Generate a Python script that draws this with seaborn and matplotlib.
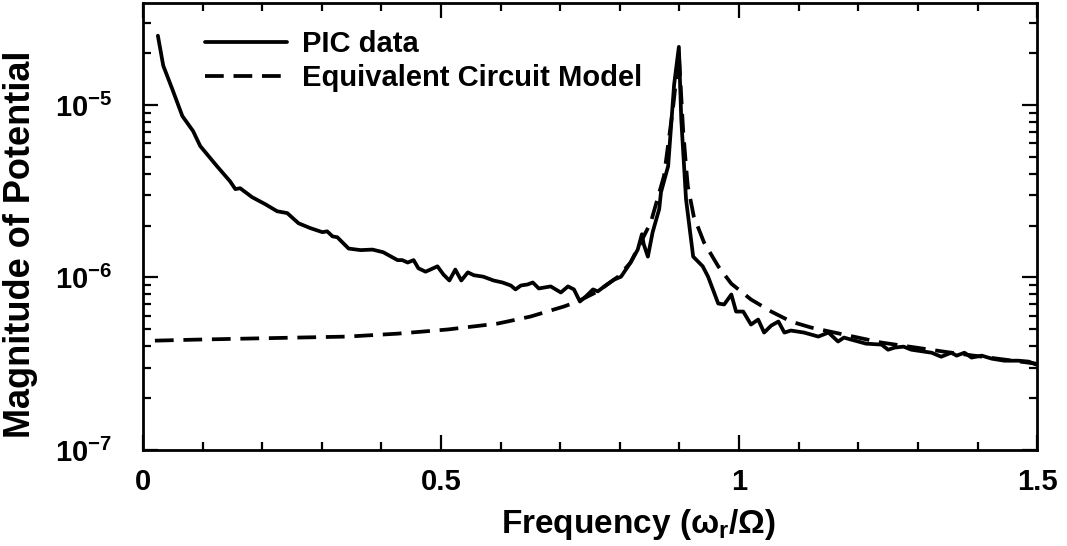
import numpy as np
import pandas as pd
import seaborn as sns
import matplotlib
matplotlib.use("Agg")
import matplotlib.pyplot as plt
from matplotlib.ticker import LogLocator, LogFormatterMathtext, MultipleLocator, NullFormatter

# ---- data ----
pic_x = [0.025, 0.034, 0.049, 0.066, 0.084, 0.096, 0.124, 0.146, 0.155, 0.163,
         0.183, 0.205, 0.225, 0.242, 0.261, 0.281, 0.301, 0.309, 0.318, 0.326,
         0.345, 0.365, 0.385, 0.403, 0.427, 0.435, 0.444, 0.454, 0.462, 0.474,
         0.482, 0.494, 0.504, 0.514, 0.524, 0.534, 0.545, 0.555, 0.571, 0.588,
         0.603, 0.617, 0.625, 0.634, 0.645, 0.654, 0.664, 0.684, 0.701, 0.713,
         0.723, 0.733, 0.743, 0.755, 0.763, 0.776, 0.790, 0.802, 0.818, 0.830,
         0.837, 0.840, 0.847, 0.855, 0.866, 0.869, 0.881, 0.891, 0.899, 0.903,
         0.908, 0.911, 0.923, 0.939, 0.948, 0.965, 0.975, 0.987, 0.995, 1.007,
         1.020, 1.032, 1.042, 1.054, 1.066, 1.076, 1.087, 1.109, 1.133, 1.150,
         1.166, 1.176, 1.188, 1.213, 1.239, 1.250, 1.261, 1.276, 1.289, 1.323,
         1.339, 1.356, 1.365, 1.378, 1.390, 1.407, 1.424, 1.445, 1.469, 1.486,
         1.499]
pic_y = [2.52e-5, 1.69e-5, 1.24e-5, 8.63e-6, 7.06e-6, 5.78e-6, 4.42e-6, 3.61e-6, 3.25e-6, 3.29e-6,
         2.92e-6, 2.66e-6, 2.42e-6, 2.36e-6, 2.06e-6, 1.93e-6, 1.83e-6, 1.85e-6, 1.73e-6, 1.71e-6,
         1.47e-6, 1.44e-6, 1.45e-6, 1.40e-6, 1.26e-6, 1.26e-6, 1.22e-6, 1.26e-6, 1.13e-6, 1.08e-6,
         1.11e-6, 1.16e-6, 1.04e-6, 9.6e-7, 1.11e-6, 9.6e-7, 1.07e-6, 1.03e-6, 1.01e-6, 9.6e-7,
         9.35e-7, 8.98e-7, 8.52e-7, 8.98e-7, 9.1e-7, 9.35e-7, 8.63e-7, 8.87e-7, 8.18e-7, 8.87e-7,
         8.52e-7, 7.25e-7, 7.76e-7, 8.52e-7, 8.3e-7, 8.98e-7, 9.7e-7, 1.01e-6, 1.22e-6, 1.45e-6,
         1.78e-6, 1.56e-6, 1.32e-6, 1.83e-6, 2.49e-6, 3.12e-6, 4.42e-6, 1.31e-5, 2.17e-5, 8.29e-6,
         4.25e-6, 2.84e-6, 1.32e-6, 1.16e-6, 1.01e-6, 7.06e-7, 6.97e-7, 7.96e-7, 6.34e-7, 6.34e-7,
         5.33e-7, 5.7e-7, 4.79e-7, 5.26e-7, 5.55e-7, 4.79e-7, 4.92e-7, 4.79e-7, 4.54e-7, 4.79e-7,
         4.25e-7, 4.48e-7, 4.36e-7, 4.13e-7, 4.08e-7, 3.81e-7, 3.92e-7, 3.97e-7, 3.81e-7, 3.66e-7,
         3.47e-7, 3.66e-7, 3.52e-7, 3.66e-7, 3.43e-7, 3.52e-7, 3.38e-7, 3.29e-7, 3.29e-7, 3.25e-7,
         3.12e-7]

model_x = [0.020, 0.091, 0.175, 0.259, 0.343, 0.427, 0.511, 0.595, 0.650, 0.706,
           0.729, 0.763, 0.797, 0.818, 0.852, 0.874, 0.889, 0.899, 0.906, 0.911,
           0.914, 0.924, 0.941, 0.965, 0.987, 1.020, 1.054, 1.087, 1.121, 1.160,
           1.239, 1.356, 1.499]
model_y = [4.30e-7, 4.36e-7, 4.42e-7, 4.48e-7, 4.54e-7, 4.72e-7, 4.99e-7, 5.4e-7, 5.93e-7, 6.78e-7,
           7.25e-7, 8.3e-7, 1.01e-6, 1.22e-6, 2.09e-6, 3.87e-6, 9.5e-6, 1.98e-5, 7.25e-6, 4.42e-6,
           3.38e-6, 2.26e-6, 1.6e-6, 1.16e-6, 9.2e-7, 7.45e-7, 6.34e-7, 5.55e-7, 5.12e-7, 4.79e-7,
           4.19e-7, 3.66e-7, 3.16e-7]

series_labels = ["PIC data", "Equivalent Circuit Model"]
x_ticks = [0, 0.5, 1, 1.5]
x_tick_labels = ["0", "0.5", "1", "1.5"]
x_label = "Frequency (ω$_\\mathregular{r}$/Ω)"
y_label = "Magnitude of Potential"

# ---- style ----
sns.set_style("ticks")
plt.rcParams["font.family"] = ["Liberation Sans", "DejaVu Sans"]
plt.rcParams["font.weight"] = "bold"
plt.rcParams["axes.labelweight"] = "bold"
plt.rcParams["mathtext.fontset"] = "custom"
plt.rcParams["mathtext.rm"] = "Liberation Sans:bold"
plt.rcParams["mathtext.it"] = "Liberation Sans:italic:bold"
plt.rcParams["mathtext.bf"] = "Liberation Sans:bold"
plt.rcParams["mathtext.sf"] = "Liberation Sans:bold"
plt.rcParams["mathtext.default"] = "regular"
for k in ["text.color", "axes.labelcolor", "xtick.color", "ytick.color", "axes.edgecolor"]:
    plt.rcParams[k] = "black"

fig = plt.figure(figsize=(10.67, 5.46), dpi=100)
ax = fig.add_axes([0.134, 0.176, 0.838, 0.8185])

LW = 2.7
DASH = (5.0, 2.6)
sns.lineplot(x=pic_x, y=pic_y, ax=ax, color="black", linewidth=LW,
             label=series_labels[0], sort=False, estimator=None)
sns.lineplot(x=model_x, y=model_y, ax=ax, color="black", linewidth=LW,
             label=series_labels[1], sort=False, estimator=None)
ax.lines[1].set_dashes(DASH)

ax.set_yscale("log")
ax.set_xlim(0, 1.5)
ax.set_ylim(1e-7, 3.9e-5)

ax.set_xticks(x_ticks)
ax.set_xticklabels(x_tick_labels)
ax.xaxis.set_minor_locator(MultipleLocator(0.1))
ax.yaxis.set_major_locator(LogLocator(base=10, numticks=10))
ax.yaxis.set_major_formatter(LogFormatterMathtext())
ax.yaxis.set_minor_locator(LogLocator(base=10, subs=np.arange(2, 10), numticks=20))
ax.yaxis.set_minor_formatter(NullFormatter())

ax.tick_params(which="both", direction="in", top=True, right=True, width=1.6,
               labelsize=21)
ax.tick_params(which="major", length=11)
ax.tick_params(which="minor", length=6)
ax.tick_params(axis="y", which="major", pad=22)
ax.tick_params(axis="x", which="major", pad=13)

for sp in ax.spines.values():
    sp.set_linewidth(2.0)

ax.set_xlabel(x_label, fontsize=24, fontweight="bold")
ax.xaxis.set_label_coords(0.554, -0.128)
ax.set_ylabel(y_label, fontsize=26, fontweight="bold")
ax.yaxis.set_label_coords(-0.117, 0.46)

leg = ax.legend(loc="upper left", bbox_to_anchor=(0.047, 0.985), frameon=False,
                prop={"size": 21, "weight": "bold"}, handlelength=2.8, handletextpad=0.5,
                labelspacing=0.2, borderaxespad=0.3)
for h in leg.get_lines():
    h.set_linewidth(LW)
leg.get_lines()[1].set_dashes(DASH)

fig.savefig("out.png", dpi=100)
